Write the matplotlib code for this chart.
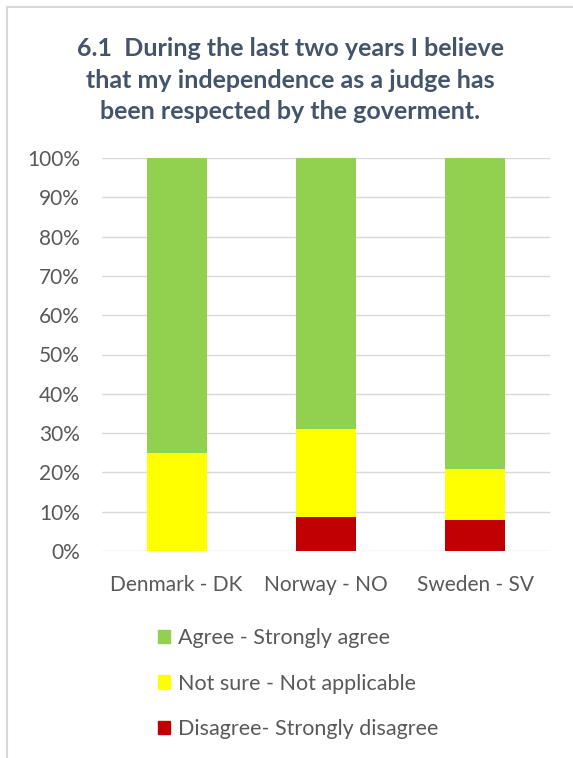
import matplotlib
matplotlib.use("Agg")
import matplotlib.pyplot as plt
from matplotlib.lines import Line2D
from matplotlib.patches import Patch

# data (percent of respondents)
countries = ["Denmark - DK", "Norway - NO", "Sweden - SV"]
disagree = [0, 8.7, 7.8]
not_sure = [25, 22.3, 13]
agree = [75, 69, 79.2]

series_labels = ["Disagree- Strongly disagree", "Not sure - Not applicable", "Agree - Strongly agree"]
colors = ["#C00000", "#FFFF00", "#92D050"]

title = ("6.1  During the last two years I believe\n"
         "that my independence as a judge has\n"
         "been respected by the goverment.")

plt.rcParams['font.family'] = ['Lato', 'DejaVu Sans']
text_color = "#595959"
title_color = "#44546A"

W, H = 573, 758
fig = plt.figure(figsize=(W / 100, H / 100), dpi=100)

# chart border (cropped on right and bottom)
fig.add_artist(Line2D([7 / W, 7 / W], [0, 1 - 7 / H], color="#D9D9D9", lw=1.5))
fig.add_artist(Line2D([7 / W, 1], [1 - 7 / H, 1 - 7 / H], color="#D9D9D9", lw=1.5))

ax = fig.add_axes([102 / W, (H - 551) / H, 448 / W, 393 / H])

x = range(len(countries))
bottom = [0] * len(countries)
for vals, lab, col in zip([disagree, not_sure, agree], series_labels, colors):
    ax.bar(x, vals, width=0.4, bottom=bottom, color=col, label=lab, zorder=3)
    bottom = [b + v for b, v in zip(bottom, vals)]

ax.set_xlim(-0.5, len(countries) - 0.5)
ax.set_ylim(0, 100)
ax.set_yticks(range(0, 101, 10))
ax.set_yticklabels([f"{v}%" for v in range(0, 101, 10)])
ax.set_xticks(list(x))
ax.set_xticklabels(countries)
ax.tick_params(axis="both", length=0, labelsize=15, colors=text_color)
ax.tick_params(axis="y", pad=16)
ax.tick_params(axis="x", pad=17)
ax.grid(axis="y", color="#D9D9D9", lw=1, zorder=0)
for s in ax.spines.values():
    s.set_visible(False)

fig.text(290 / W, 1 - 80 / H, title, ha="center", va="center", fontsize=18,
         fontweight="bold", color=title_color, linespacing=1.45)

handles = [Patch(color=c) for c in colors][::-1]
fig.legend(handles, series_labels[::-1], loc="upper left",
           bbox_to_anchor=(139 / W, 1 - 609 / H), frameon=False,
           fontsize=15.5, labelcolor=text_color, handlelength=0.56,
           handleheight=0.56, handletextpad=0.35, labelspacing=1.17)

fig.savefig("out.png", dpi=100, facecolor="white")
